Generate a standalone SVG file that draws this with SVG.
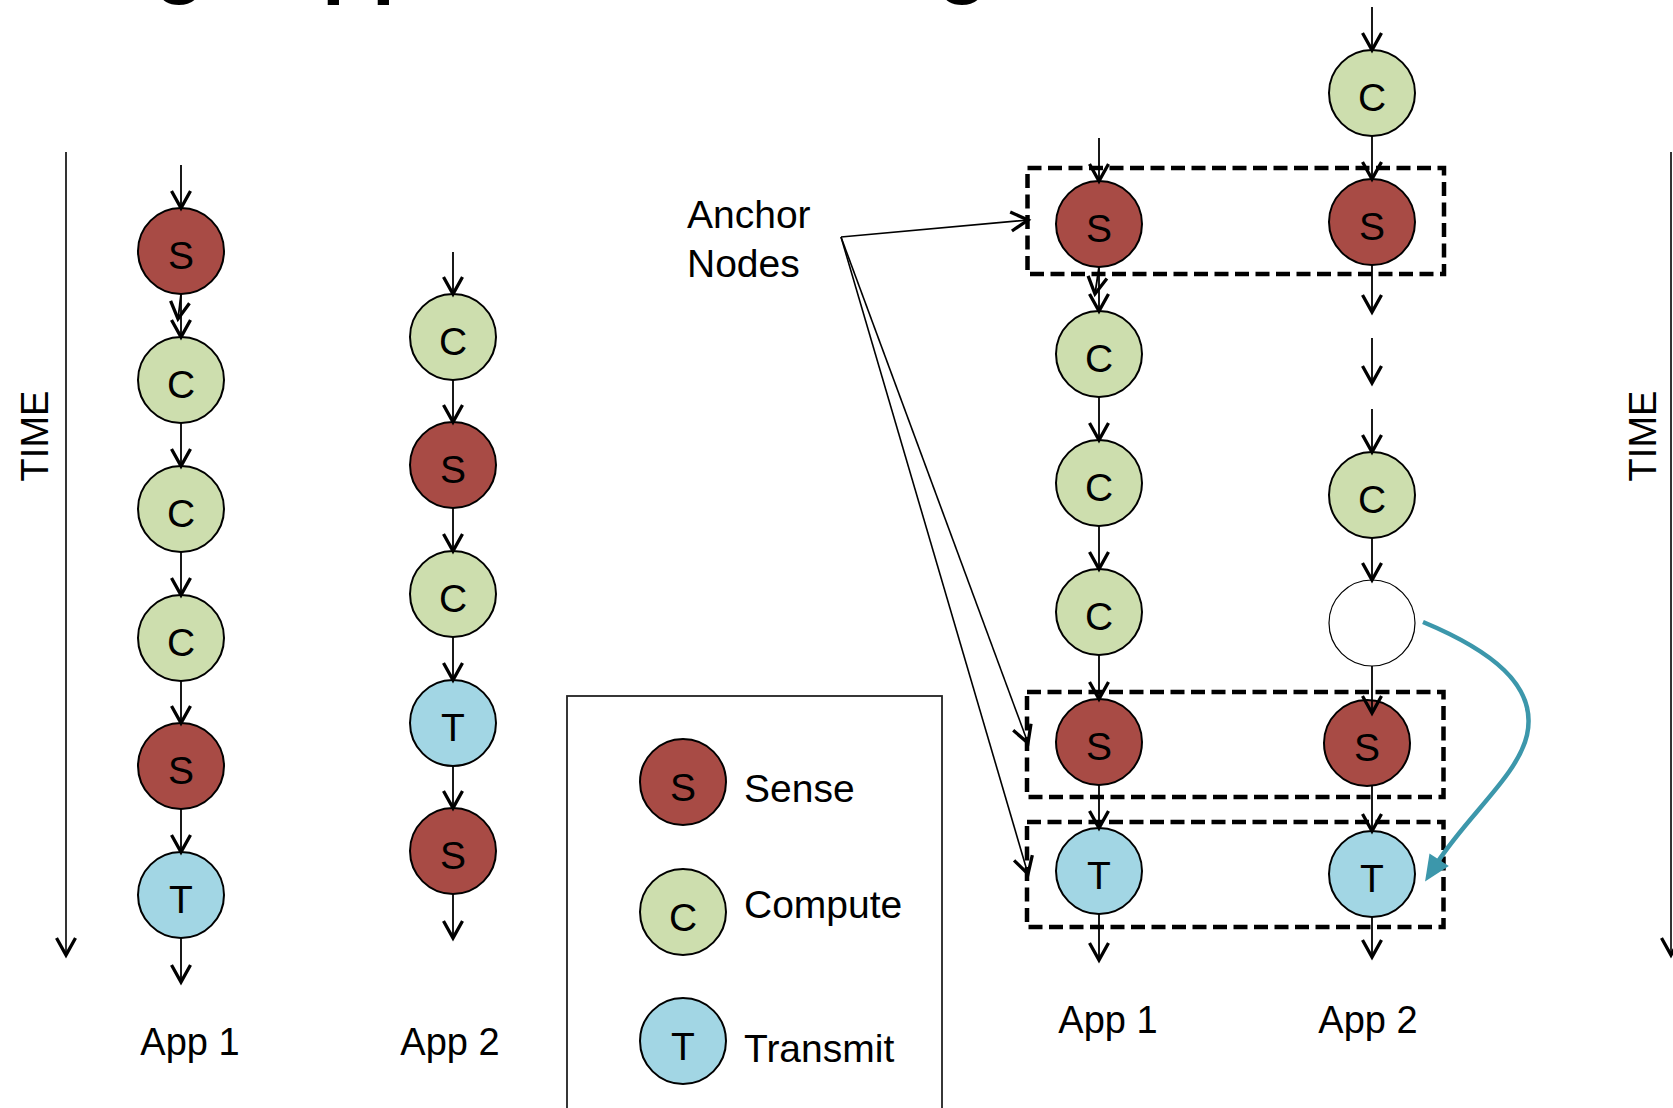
<svg xmlns="http://www.w3.org/2000/svg" width="1673" height="1108" viewBox="0 0 1673 1108">
<style>
text{font-family:"Liberation Sans",Arial,sans-serif;fill:#000}
.lbl{font-size:39px;text-anchor:middle}
.big{font-size:39px}
.app{font-size:38px;text-anchor:middle}
.s{fill:#a84b45;stroke:#000;stroke-width:2}
.c{fill:#cddeae;stroke:#000;stroke-width:2}
.t{fill:#a2d6e4;stroke:#000;stroke-width:2}
.w{fill:#fff;stroke:#000;stroke-width:1.2}
.e{stroke:#000;stroke-width:1.8;fill:none;marker-end:url(#ah)}
.a{stroke:#000;stroke-width:1.6;fill:none;marker-end:url(#ah)}
.box{fill:none;stroke:#000;stroke-width:4.5;stroke-dasharray:14 6.5}
</style>
<defs>
<marker id="ah" markerUnits="userSpaceOnUse" markerWidth="40" markerHeight="40" viewBox="-20 -20 40 40" refX="0" refY="0" orient="auto" overflow="visible">
<path d="M-17,-9.5 L0,0 L-17,9.5" fill="none" stroke="#000" stroke-width="3.3"/>
</marker>
<marker id="th" markerUnits="userSpaceOnUse" markerWidth="60" markerHeight="60" viewBox="-30 -30 60 60" refX="0" refY="0" orient="auto" overflow="visible">
<path d="M-4,-11.5 L22,0 L-4,11.5 z" fill="#3c97ab"/>
</marker>
</defs>

<g id="title-fragment"><text x="155" y="-12" style="font-size:82px;font-weight:bold">g</text><text x="322" y="-12" style="font-size:82px;font-weight:bold">pp</text><text x="938" y="-12" style="font-size:82px;font-weight:bold">g</text></g>

<g id="legend">
<rect x="567" y="696" width="375" height="430" fill="none" stroke="#222" stroke-width="1.8"/>
<circle class="s" cx="683" cy="782" r="43"/><text class="lbl" x="683" y="801">S</text>
<circle class="c" cx="683" cy="912" r="43"/><text class="lbl" x="683" y="931">C</text>
<circle class="t" cx="683" cy="1041" r="43"/><text class="lbl" x="683" y="1060">T</text>
<text class="big" x="744" y="802">Sense</text>
<text class="big" x="744" y="918">Compute</text>
<text class="big" x="744" y="1062">Transmit</text>
</g>

<g id="time-left">
<text class="big" transform="translate(48,436) rotate(-90)" text-anchor="middle" style="font-size:38px">TIME</text>
</g>
<g id="time-right">
<text class="big" transform="translate(1656,436) rotate(-90)" text-anchor="middle" style="font-size:38px">TIME</text>
</g>

<g id="anchor-label">
<text class="big" x="687" y="228">Anchor</text>
<text class="big" x="687" y="277">Nodes</text>
</g>

<g id="anchor-boxes">
<rect class="box" x="1027.5" y="168" width="416.5" height="106"/>
<rect class="box" x="1027" y="692" width="416.5" height="105"/>
<rect class="box" x="1027" y="822" width="416.5" height="105"/>
</g>

<g id="left-app1">
<g id="L1-S1"><circle class="s" cx="181" cy="251" r="43"/><text class="lbl" x="181" y="269">S</text></g>
<g id="L1-C1"><circle class="c" cx="181" cy="380" r="43"/><text class="lbl" x="181" y="398">C</text></g>
<g id="L1-C2"><circle class="c" cx="181" cy="509" r="43"/><text class="lbl" x="181" y="527">C</text></g>
<g id="L1-C3"><circle class="c" cx="181" cy="638" r="43"/><text class="lbl" x="181" y="656">C</text></g>
<g id="L1-S2"><circle class="s" cx="181" cy="766" r="43"/><text class="lbl" x="181" y="784">S</text></g>
<g id="L1-T1"><circle class="t" cx="181" cy="895" r="43"/><text class="lbl" x="181" y="913">T</text></g>
<text class="app" x="190" y="1055">App 1</text>
</g>

<g id="left-app2">
<g id="L2-C1"><circle class="c" cx="453" cy="337" r="43"/><text class="lbl" x="453" y="355">C</text></g>
<g id="L2-S1"><circle class="s" cx="453" cy="465" r="43"/><text class="lbl" x="453" y="483">S</text></g>
<g id="L2-C2"><circle class="c" cx="453" cy="594" r="43"/><text class="lbl" x="453" y="612">C</text></g>
<g id="L2-T1"><circle class="t" cx="453" cy="723" r="43"/><text class="lbl" x="453" y="741">T</text></g>
<g id="L2-S2"><circle class="s" cx="453" cy="851" r="43"/><text class="lbl" x="453" y="869">S</text></g>
<text class="app" x="450" y="1055">App 2</text>
</g>

<g id="right-app1">
<g id="R1-S1"><circle class="s" cx="1099" cy="224" r="43"/><text class="lbl" x="1099" y="242">S</text></g>
<g id="R1-C1"><circle class="c" cx="1099" cy="354" r="43"/><text class="lbl" x="1099" y="372">C</text></g>
<g id="R1-C2"><circle class="c" cx="1099" cy="483" r="43"/><text class="lbl" x="1099" y="501">C</text></g>
<g id="R1-C3"><circle class="c" cx="1099" cy="612" r="43"/><text class="lbl" x="1099" y="630">C</text></g>
<g id="R1-S2"><circle class="s" cx="1099" cy="742" r="43"/><text class="lbl" x="1099" y="760">S</text></g>
<g id="R1-T1"><circle class="t" cx="1099" cy="871" r="43"/><text class="lbl" x="1099" y="889">T</text></g>
<text class="app" x="1108" y="1033">App 1</text>
</g>

<g id="right-app2">
<g id="R2-C0"><circle class="c" cx="1372" cy="93" r="43"/><text class="lbl" x="1372" y="111">C</text></g>
<g id="R2-S1"><circle class="s" cx="1372" cy="222" r="43"/><text class="lbl" x="1372" y="240">S</text></g>
<g id="R2-C1"><circle class="c" cx="1372" cy="495" r="43"/><text class="lbl" x="1372" y="513">C</text></g>
<g id="R2-W"><circle class="w" cx="1372" cy="623" r="43"/></g>
<g id="R2-S2"><circle class="s" cx="1367" cy="743" r="43"/><text class="lbl" x="1367" y="761">S</text></g>
<g id="R2-T1"><circle class="t" cx="1372" cy="874" r="43"/><text class="lbl" x="1372" y="892">T</text></g>
<text class="app" x="1368" y="1033">App 2</text>
</g>

<g id="connectors">
<line class="a" x1="66" y1="152" x2="66" y2="955"/>
<line class="a" x1="1671" y1="152" x2="1671" y2="955"/>

<line class="e" x1="181" y1="165" x2="181" y2="208"/>
<line class="e" x1="181" y1="294" x2="181" y2="337"/>
<line class="e" x1="181" y1="294" x2="178" y2="319"/>
<line class="e" x1="181" y1="423" x2="181" y2="466"/>
<line class="e" x1="181" y1="552" x2="181" y2="595"/>
<line class="e" x1="181" y1="681" x2="181" y2="723"/>
<line class="e" x1="181" y1="809" x2="181" y2="852"/>
<line class="e" x1="181" y1="938" x2="181" y2="982"/>

<line class="e" x1="453" y1="252" x2="453" y2="294"/>
<line class="e" x1="453" y1="380" x2="453" y2="422"/>
<line class="e" x1="453" y1="508" x2="453" y2="551"/>
<line class="e" x1="453" y1="637" x2="453" y2="680"/>
<line class="e" x1="453" y1="766" x2="453" y2="808"/>
<line class="e" x1="453" y1="894" x2="453" y2="938"/>

<line class="e" x1="1099" y1="138" x2="1099" y2="181"/>
<line class="e" x1="1099" y1="267" x2="1099" y2="311"/>
<line class="e" x1="1099" y1="267" x2="1095" y2="294"/>
<line class="e" x1="1099" y1="397" x2="1099" y2="440"/>
<line class="e" x1="1099" y1="526" x2="1099" y2="569"/>
<line class="e" x1="1099" y1="655" x2="1099" y2="699"/>
<line class="e" x1="1099" y1="785" x2="1099" y2="828"/>
<line class="e" x1="1099" y1="914" x2="1099" y2="960"/>

<line class="e" x1="1372" y1="7" x2="1372" y2="50"/>
<line class="e" x1="1372" y1="136" x2="1372" y2="179"/>
<line class="e" x1="1372" y1="265" x2="1372" y2="312"/>
<line class="e" x1="1372" y1="338" x2="1372" y2="383"/>
<line class="e" x1="1372" y1="409" x2="1372" y2="452"/>
<line class="e" x1="1372" y1="538" x2="1372" y2="580"/>
<line class="e" x1="1372" y1="666" x2="1372" y2="713"/>
<line class="e" x1="1372" y1="786" x2="1372" y2="831"/>
<line class="e" x1="1372" y1="917" x2="1372" y2="957"/>

<line class="a" x1="841" y1="237" x2="1028" y2="220"/>
<line class="a" x1="841" y1="237" x2="1028" y2="743"/>
<line class="a" x1="841" y1="237" x2="1028" y2="874"/>

<path d="M1423,622 C1490,650 1538,685 1527,735 C1518,775 1468,815 1437,863" fill="none" stroke="#3c97ab" stroke-width="4.5" marker-end="url(#th)"/>
</g>
</svg>
